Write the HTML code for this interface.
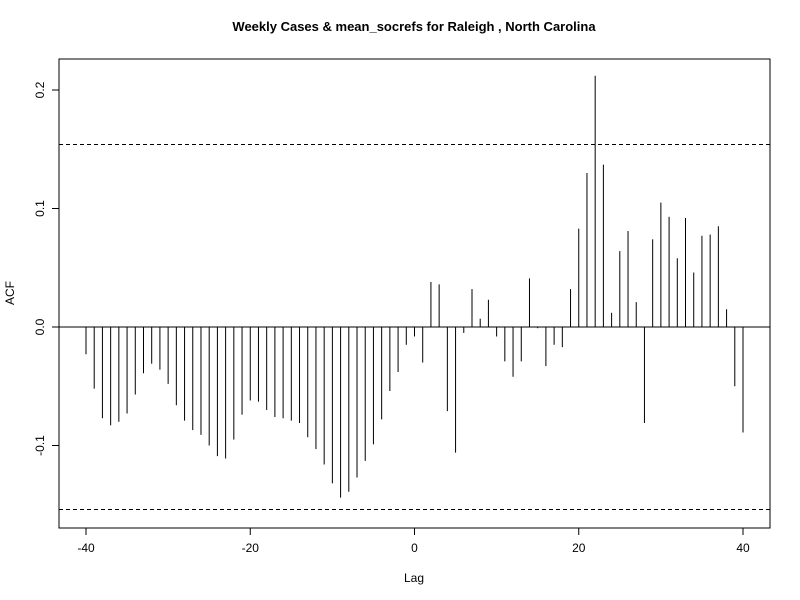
<!DOCTYPE html>
<html><head><meta charset="utf-8"><style>
body{margin:0;background:#fff}
svg{display:block;font-family:"Liberation Sans",Arial,sans-serif}
</style></head><body>
<svg id="chart" width="800" height="600">
<text x="414" y="31" text-anchor="middle" font-size="13" font-weight="bold">Weekly Cases &amp; mean_socrefs for Raleigh , North Carolina</text>
<rect x="59" y="59" width="711" height="469" fill="none" stroke="#000"/>
<text x="414" y="582" text-anchor="middle" font-size="12">Lag</text>
<text transform="translate(14,293) rotate(-90)" text-anchor="middle" font-size="12">ACF</text>
<g id="marks"></g>
</svg>
<script>
const lags=[];for(let k=-40;k<=40;k++)lags.push(k);
const acfValues=[-0.023,-0.052,-0.077,-0.083,-0.080,-0.073,-0.057,-0.039,-0.031,-0.036,-0.048,-0.066,-0.079,-0.087,-0.091,-0.100,-0.109,-0.111,-0.095,-0.074,-0.062,-0.063,-0.070,-0.076,-0.077,-0.079,-0.081,-0.093,-0.103,-0.116,-0.132,-0.144,-0.139,-0.127,-0.113,-0.099,-0.078,-0.054,-0.038,-0.015,-0.008,-0.030,0.038,0.036,-0.071,-0.106,-0.005,0.032,0.007,0.023,-0.008,-0.029,-0.042,-0.029,0.041,-0.001,-0.033,-0.015,-0.017,0.032,0.083,0.130,0.212,0.137,0.012,0.064,0.081,0.021,-0.081,0.074,0.105,0.093,0.058,0.092,0.046,0.077,0.078,0.085,0.015,-0.050,-0.089];
const xTicks=[-40,-20,0,20,40];
const yTicks=[-0.1,0.0,0.1,0.2];
const ciBound=0.154;
const xs=v=>414.5+v*8.2125;
const ys=v=>327-v*1185;
const NS="http://www.w3.org/2000/svg";
const g=document.getElementById('marks');
function mk(t,a){const e=document.createElementNS(NS,t);for(const k in a)e.setAttribute(k,a[k]);g.appendChild(e);return e;}
let e=mk('line',{x1:59,x2:770,y1:ys(0),y2:ys(0),stroke:'#000'});


[ciBound,-ciBound].forEach(c=>{
 const l=mk('line',{x1:59,x2:770,y1:ys(c),y2:ys(c),stroke:'#000','stroke-dasharray':'4,3'});
 
 
});
lags.forEach((k,i)=>{
 const l=mk('line',{x1:xs(k),x2:xs(k),y1:ys(0),y2:ys(acfValues[i]),stroke:'#000'});
 
 
});
e=mk('line',{x1:xs(xTicks[0]),x2:xs(xTicks[xTicks.length-1]),y1:528,y2:528,stroke:'#000'});


xTicks.forEach(t=>{
 const l=mk('line',{x1:xs(t),x2:xs(t),y1:528,y2:535,stroke:'#000'});
 
 
 const tx=mk('text',{x:xs(t),y:552,'text-anchor':'middle','font-size':12});
 tx.textContent=t;
 
 
});
e=mk('line',{x1:59,x2:59,y1:ys(yTicks[0]),y2:ys(yTicks[yTicks.length-1]),stroke:'#000'});


yTicks.forEach(t=>{
 const l=mk('line',{x1:52,x2:59,y1:ys(t),y2:ys(t),stroke:'#000'});
 
 
 const tx=mk('text',{transform:`translate(44,${ys(t)}) rotate(-90)`,'text-anchor':'middle','font-size':12});
 tx.textContent=t.toFixed(1);
 
 
});
</script>
</body></html>
